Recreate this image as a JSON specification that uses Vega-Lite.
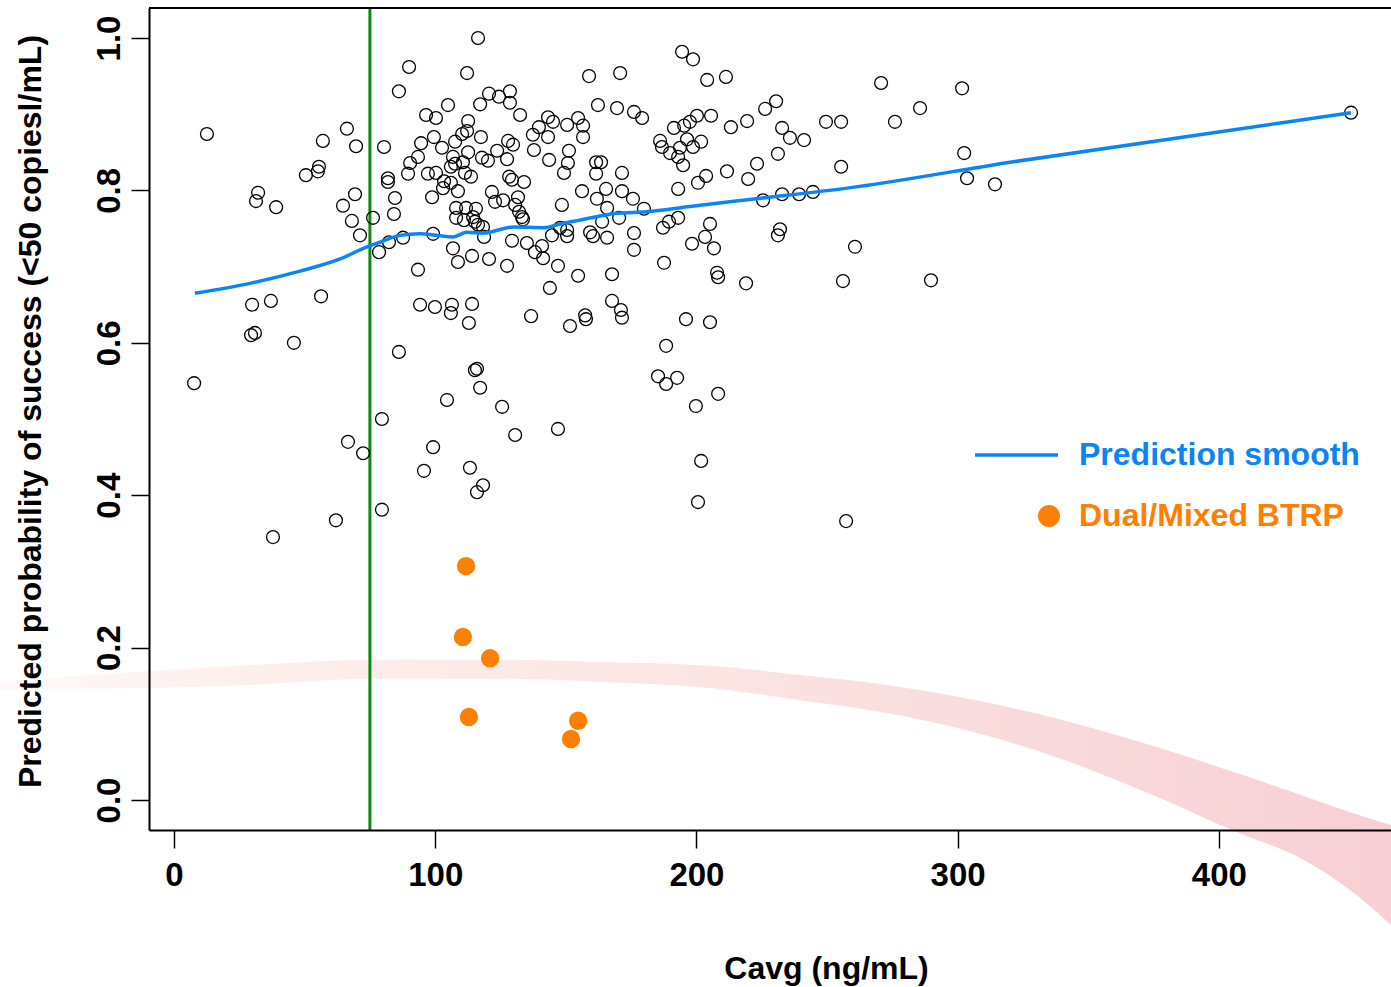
{
  "$schema": "https://vega.github.io/schema/vega-lite/v6.json",
  "width": 1242,
  "height": 822,
  "autosize": "none",
  "padding": {"left": 149, "top": 8, "right": 0, "bottom": 157},
  "config": {
    "view": {"stroke": null},
    "font": "Liberation Sans"
  },
  "datasets": {
    "band": [
      {"bx": -66.6, "btop": 0.155, "bbot": 0.144},
      {"bx": -36.0, "btop": 0.163, "bbot": 0.146},
      {"bx": -9.6, "btop": 0.169, "bbot": 0.147},
      {"bx": 29.1, "btop": 0.177, "bbot": 0.151},
      {"bx": 76.2, "btop": 0.184, "bbot": 0.159},
      {"bx": 124.8, "btop": 0.184, "bbot": 0.159},
      {"bx": 163.1, "btop": 0.181, "bbot": 0.155},
      {"bx": 205.2, "btop": 0.176, "bbot": 0.147},
      {"bx": 239.7, "btop": 0.164, "bbot": 0.131},
      {"bx": 273.0, "btop": 0.151, "bbot": 0.114},
      {"bx": 308.6, "btop": 0.130, "bbot": 0.087},
      {"bx": 341.1, "btop": 0.104, "bbot": 0.052},
      {"bx": 373.7, "btop": 0.072, "bbot": 0.008},
      {"bx": 408.9, "btop": 0.033, "bbot": -0.045},
      {"bx": 431.1, "btop": 0.007, "bbot": -0.076},
      {"bx": 450.2, "btop": -0.016, "bbot": -0.118},
      {"bx": 465.9, "btop": -0.033, "bbot": -0.164}
    ],
    "smooth": [
      {"cavg": 8.0, "prob": 0.665, "series": "Prediction smooth"},
      {"cavg": 29.1, "prob": 0.678, "series": "Prediction smooth"},
      {"cavg": 48.2, "prob": 0.694, "series": "Prediction smooth"},
      {"cavg": 63.6, "prob": 0.710, "series": "Prediction smooth"},
      {"cavg": 73.9, "prob": 0.726, "series": "Prediction smooth"},
      {"cavg": 78.9, "prob": 0.732, "series": "Prediction smooth"},
      {"cavg": 86.5, "prob": 0.741, "series": "Prediction smooth"},
      {"cavg": 94.2, "prob": 0.743, "series": "Prediction smooth"},
      {"cavg": 100.7, "prob": 0.741, "series": "Prediction smooth"},
      {"cavg": 106.9, "prob": 0.739, "series": "Prediction smooth"},
      {"cavg": 112.1, "prob": 0.745, "series": "Prediction smooth"},
      {"cavg": 118.4, "prob": 0.744, "series": "Prediction smooth"},
      {"cavg": 129.9, "prob": 0.752, "series": "Prediction smooth"},
      {"cavg": 141.4, "prob": 0.751, "series": "Prediction smooth"},
      {"cavg": 149.0, "prob": 0.757, "series": "Prediction smooth"},
      {"cavg": 155.4, "prob": 0.761, "series": "Prediction smooth"},
      {"cavg": 169.5, "prob": 0.770, "series": "Prediction smooth"},
      {"cavg": 181.0, "prob": 0.772, "series": "Prediction smooth"},
      {"cavg": 197.5, "prob": 0.779, "series": "Prediction smooth"},
      {"cavg": 225.5, "prob": 0.790, "series": "Prediction smooth"},
      {"cavg": 257.7, "prob": 0.803, "series": "Prediction smooth"},
      {"cavg": 320.1, "prob": 0.837, "series": "Prediction smooth"},
      {"cavg": 450.6, "prob": 0.902, "series": "Prediction smooth"}
    ],
    "btrp": [
      {"cavg": 111.8, "prob": 0.307, "series": "Dual/Mixed BTRP"},
      {"cavg": 110.6, "prob": 0.214, "series": "Dual/Mixed BTRP"},
      {"cavg": 121.0, "prob": 0.186, "series": "Dual/Mixed BTRP"},
      {"cavg": 112.9, "prob": 0.109, "series": "Dual/Mixed BTRP"},
      {"cavg": 154.7, "prob": 0.104, "series": "Dual/Mixed BTRP"},
      {"cavg": 152.0, "prob": 0.080, "series": "Dual/Mixed BTRP"}
    ],
    "pts": [
      {"cavg": 7.7, "prob": 0.547}, {"cavg": 12.6, "prob": 0.874}, {"cavg": 29.5, "prob": 0.610}, {"cavg": 29.9, "prob": 0.650},
      {"cavg": 31.0, "prob": 0.613}, {"cavg": 31.4, "prob": 0.786}, {"cavg": 32.2, "prob": 0.797}, {"cavg": 37.1, "prob": 0.655},
      {"cavg": 37.9, "prob": 0.345}, {"cavg": 39.1, "prob": 0.778}, {"cavg": 45.9, "prob": 0.600}, {"cavg": 50.5, "prob": 0.820},
      {"cavg": 55.1, "prob": 0.825}, {"cavg": 55.5, "prob": 0.831}, {"cavg": 56.3, "prob": 0.661}, {"cavg": 57.0, "prob": 0.865},
      {"cavg": 62.0, "prob": 0.367}, {"cavg": 64.7, "prob": 0.780}, {"cavg": 66.2, "prob": 0.881}, {"cavg": 66.6, "prob": 0.470},
      {"cavg": 68.1, "prob": 0.760}, {"cavg": 69.3, "prob": 0.795}, {"cavg": 69.7, "prob": 0.858}, {"cavg": 71.2, "prob": 0.741},
      {"cavg": 72.4, "prob": 0.455}, {"cavg": 76.2, "prob": 0.764}, {"cavg": 78.5, "prob": 0.719}, {"cavg": 79.6, "prob": 0.500},
      {"cavg": 79.6, "prob": 0.381}, {"cavg": 80.4, "prob": 0.857}, {"cavg": 81.9, "prob": 0.816}, {"cavg": 81.9, "prob": 0.811},
      {"cavg": 82.3, "prob": 0.732}, {"cavg": 84.2, "prob": 0.769}, {"cavg": 84.6, "prob": 0.790}, {"cavg": 86.1, "prob": 0.930},
      {"cavg": 86.1, "prob": 0.588}, {"cavg": 87.7, "prob": 0.738}, {"cavg": 89.6, "prob": 0.822}, {"cavg": 90.0, "prob": 0.962},
      {"cavg": 90.4, "prob": 0.836}, {"cavg": 93.4, "prob": 0.844}, {"cavg": 93.4, "prob": 0.696}, {"cavg": 94.2, "prob": 0.650},
      {"cavg": 94.6, "prob": 0.862}, {"cavg": 95.7, "prob": 0.432}, {"cavg": 96.5, "prob": 0.899}, {"cavg": 97.2, "prob": 0.822},
      {"cavg": 98.8, "prob": 0.791}, {"cavg": 99.2, "prob": 0.743}, {"cavg": 99.2, "prob": 0.463}, {"cavg": 99.5, "prob": 0.870},
      {"cavg": 99.9, "prob": 0.647}, {"cavg": 100.3, "prob": 0.895}, {"cavg": 100.3, "prob": 0.823}, {"cavg": 104.5, "prob": 0.525},
      {"cavg": 116.4, "prob": 1.000}, {"cavg": 112.2, "prob": 0.954}, {"cavg": 158.9, "prob": 0.950}, {"cavg": 170.8, "prob": 0.954},
      {"cavg": 194.5, "prob": 0.982}, {"cavg": 198.7, "prob": 0.972}, {"cavg": 120.6, "prob": 0.927}, {"cavg": 124.4, "prob": 0.923},
      {"cavg": 128.6, "prob": 0.930}, {"cavg": 128.6, "prob": 0.915}, {"cavg": 117.2, "prob": 0.913}, {"cavg": 104.9, "prob": 0.912},
      {"cavg": 132.5, "prob": 0.899}, {"cavg": 162.3, "prob": 0.912}, {"cavg": 169.6, "prob": 0.908}, {"cavg": 176.1, "prob": 0.903},
      {"cavg": 179.2, "prob": 0.895}, {"cavg": 112.6, "prob": 0.891}, {"cavg": 112.2, "prob": 0.878}, {"cavg": 110.3, "prob": 0.874},
      {"cavg": 107.6, "prob": 0.864}, {"cavg": 117.5, "prob": 0.870}, {"cavg": 102.6, "prob": 0.856}, {"cavg": 112.6, "prob": 0.850},
      {"cavg": 123.7, "prob": 0.852}, {"cavg": 127.9, "prob": 0.865}, {"cavg": 129.8, "prob": 0.860}, {"cavg": 127.5, "prob": 0.841},
      {"cavg": 117.9, "prob": 0.843}, {"cavg": 120.2, "prob": 0.839}, {"cavg": 106.8, "prob": 0.844}, {"cavg": 107.6, "prob": 0.835},
      {"cavg": 106.0, "prob": 0.831}, {"cavg": 110.6, "prob": 0.837}, {"cavg": 111.4, "prob": 0.823}, {"cavg": 113.7, "prob": 0.818},
      {"cavg": 103.4, "prob": 0.812}, {"cavg": 106.0, "prob": 0.810}, {"cavg": 103.0, "prob": 0.803}, {"cavg": 108.7, "prob": 0.799},
      {"cavg": 137.4, "prob": 0.873}, {"cavg": 139.7, "prob": 0.883}, {"cavg": 143.2, "prob": 0.896}, {"cavg": 145.1, "prob": 0.890},
      {"cavg": 143.2, "prob": 0.870}, {"cavg": 150.5, "prob": 0.886}, {"cavg": 154.7, "prob": 0.895}, {"cavg": 156.6, "prob": 0.885},
      {"cavg": 156.6, "prob": 0.870}, {"cavg": 137.8, "prob": 0.853}, {"cavg": 143.6, "prob": 0.840}, {"cavg": 151.2, "prob": 0.852},
      {"cavg": 150.8, "prob": 0.836}, {"cavg": 149.3, "prob": 0.823}, {"cavg": 161.6, "prob": 0.837}, {"cavg": 163.5, "prob": 0.837},
      {"cavg": 161.6, "prob": 0.822}, {"cavg": 171.5, "prob": 0.823}, {"cavg": 128.3, "prob": 0.818}, {"cavg": 129.4, "prob": 0.814},
      {"cavg": 134.0, "prob": 0.811}, {"cavg": 121.7, "prob": 0.798}, {"cavg": 156.2, "prob": 0.799}, {"cavg": 165.4, "prob": 0.802},
      {"cavg": 171.5, "prob": 0.799}, {"cavg": 175.7, "prob": 0.789}, {"cavg": 179.9, "prob": 0.776}, {"cavg": 193.0, "prob": 0.802},
      {"cavg": 191.4, "prob": 0.882}, {"cavg": 195.3, "prob": 0.885}, {"cavg": 197.5, "prob": 0.890}, {"cavg": 186.1, "prob": 0.865},
      {"cavg": 186.8, "prob": 0.857}, {"cavg": 189.9, "prob": 0.849}, {"cavg": 193.7, "prob": 0.856}, {"cavg": 193.0, "prob": 0.844},
      {"cavg": 194.9, "prob": 0.833}, {"cavg": 196.4, "prob": 0.867}, {"cavg": 198.7, "prob": 0.857}, {"cavg": 201.8, "prob": 0.864},
      {"cavg": 200.2, "prob": 0.898}, {"cavg": 205.6, "prob": 0.898}, {"cavg": 122.9, "prob": 0.785}, {"cavg": 126.0, "prob": 0.787},
      {"cavg": 131.7, "prob": 0.791}, {"cavg": 130.6, "prob": 0.781}, {"cavg": 132.1, "prob": 0.772}, {"cavg": 133.2, "prob": 0.765},
      {"cavg": 133.6, "prob": 0.762}, {"cavg": 148.5, "prob": 0.781}, {"cavg": 161.9, "prob": 0.789}, {"cavg": 165.8, "prob": 0.777},
      {"cavg": 108.0, "prob": 0.777}, {"cavg": 111.8, "prob": 0.777}, {"cavg": 115.6, "prob": 0.776}, {"cavg": 108.0, "prob": 0.764},
      {"cavg": 111.0, "prob": 0.761}, {"cavg": 114.5, "prob": 0.765}, {"cavg": 115.2, "prob": 0.759}, {"cavg": 116.4, "prob": 0.755},
      {"cavg": 118.3, "prob": 0.752}, {"cavg": 118.7, "prob": 0.739}, {"cavg": 106.8, "prob": 0.724}, {"cavg": 114.1, "prob": 0.714},
      {"cavg": 108.7, "prob": 0.706}, {"cavg": 120.6, "prob": 0.710}, {"cavg": 127.5, "prob": 0.701}, {"cavg": 129.4, "prob": 0.734},
      {"cavg": 135.1, "prob": 0.731}, {"cavg": 138.2, "prob": 0.719}, {"cavg": 140.9, "prob": 0.727}, {"cavg": 141.3, "prob": 0.711},
      {"cavg": 144.7, "prob": 0.741}, {"cavg": 147.8, "prob": 0.751}, {"cavg": 150.5, "prob": 0.748}, {"cavg": 150.5, "prob": 0.740},
      {"cavg": 147.0, "prob": 0.701}, {"cavg": 154.7, "prob": 0.688}, {"cavg": 143.9, "prob": 0.672}, {"cavg": 159.3, "prob": 0.745},
      {"cavg": 160.4, "prob": 0.740}, {"cavg": 163.9, "prob": 0.759}, {"cavg": 165.8, "prob": 0.738}, {"cavg": 170.4, "prob": 0.764},
      {"cavg": 176.1, "prob": 0.744}, {"cavg": 176.1, "prob": 0.722}, {"cavg": 167.7, "prob": 0.690}, {"cavg": 167.7, "prob": 0.655},
      {"cavg": 187.6, "prob": 0.705}, {"cavg": 187.2, "prob": 0.751}, {"cavg": 189.5, "prob": 0.759}, {"cavg": 193.0, "prob": 0.764},
      {"cavg": 198.3, "prob": 0.730}, {"cavg": 106.4, "prob": 0.650}, {"cavg": 106.0, "prob": 0.639}, {"cavg": 114.1, "prob": 0.651},
      {"cavg": 112.9, "prob": 0.626}, {"cavg": 136.7, "prob": 0.635}, {"cavg": 151.6, "prob": 0.622}, {"cavg": 157.4, "prob": 0.636},
      {"cavg": 157.7, "prob": 0.631}, {"cavg": 171.1, "prob": 0.643}, {"cavg": 171.5, "prob": 0.633}, {"cavg": 196.0, "prob": 0.631},
      {"cavg": 188.4, "prob": 0.596}, {"cavg": 185.3, "prob": 0.556}, {"cavg": 192.6, "prob": 0.554}, {"cavg": 188.4, "prob": 0.546},
      {"cavg": 115.2, "prob": 0.564}, {"cavg": 116.0, "prob": 0.566}, {"cavg": 117.2, "prob": 0.541}, {"cavg": 125.6, "prob": 0.516},
      {"cavg": 130.6, "prob": 0.479}, {"cavg": 147.0, "prob": 0.487}, {"cavg": 113.3, "prob": 0.436}, {"cavg": 118.3, "prob": 0.413},
      {"cavg": 116.0, "prob": 0.404}, {"cavg": 199.8, "prob": 0.517}, {"cavg": 204.1, "prob": 0.945}, {"cavg": 211.3, "prob": 0.949},
      {"cavg": 270.7, "prob": 0.941}, {"cavg": 301.7, "prob": 0.934}, {"cavg": 230.5, "prob": 0.917}, {"cavg": 226.3, "prob": 0.907},
      {"cavg": 285.6, "prob": 0.908}, {"cavg": 213.2, "prob": 0.883}, {"cavg": 219.4, "prob": 0.891}, {"cavg": 249.6, "prob": 0.890},
      {"cavg": 255.4, "prob": 0.890}, {"cavg": 276.0, "prob": 0.890}, {"cavg": 232.8, "prob": 0.882}, {"cavg": 235.8, "prob": 0.869},
      {"cavg": 241.2, "prob": 0.866}, {"cavg": 231.2, "prob": 0.848}, {"cavg": 223.2, "prob": 0.835}, {"cavg": 211.7, "prob": 0.825},
      {"cavg": 203.7, "prob": 0.819}, {"cavg": 200.6, "prob": 0.810}, {"cavg": 219.8, "prob": 0.815}, {"cavg": 255.4, "prob": 0.831},
      {"cavg": 302.5, "prob": 0.849}, {"cavg": 303.6, "prob": 0.816}, {"cavg": 314.3, "prob": 0.808}, {"cavg": 225.5, "prob": 0.787},
      {"cavg": 232.8, "prob": 0.795}, {"cavg": 239.3, "prob": 0.795}, {"cavg": 244.6, "prob": 0.798}, {"cavg": 205.2, "prob": 0.756},
      {"cavg": 203.3, "prob": 0.739}, {"cavg": 206.7, "prob": 0.724}, {"cavg": 232.0, "prob": 0.749}, {"cavg": 231.2, "prob": 0.741},
      {"cavg": 260.7, "prob": 0.726}, {"cavg": 207.9, "prob": 0.692}, {"cavg": 208.3, "prob": 0.686}, {"cavg": 219.0, "prob": 0.678},
      {"cavg": 256.1, "prob": 0.681}, {"cavg": 289.8, "prob": 0.682}, {"cavg": 205.2, "prob": 0.627}, {"cavg": 208.3, "prob": 0.533},
      {"cavg": 201.8, "prob": 0.445}, {"cavg": 200.6, "prob": 0.391}, {"cavg": 257.3, "prob": 0.366}, {"cavg": 450.6, "prob": 0.902}
    ]
  },
  "layer": [
    {
      "data": {"name": "band"},
      "mark": {
        "type": "area",
        "interpolate": "monotone",
        "clip": false,
        "fill": {
          "gradient": "linear", "x1": 0, "x2": 1, "y1": 0, "y2": 0,
          "stops": [
            {"offset": 0, "color": "#fefaf8"},
            {"offset": 0.15, "color": "#fdf0ed"},
            {"offset": 0.5, "color": "#fbe5e3"},
            {"offset": 1, "color": "#f7cfd4"}
          ]
        },
        "fillOpacity": 1
      },
      "encoding": {
        "x": {
          "field": "bx", "type": "quantitative",
          "scale": {"domain": [-9.57, 465.9], "nice": false, "zero": false},
          "axis": {
            "values": [0, 100, 200, 300, 400],
            "title": "Cavg (ng/mL)",
            "grid": false,
            "domain": true, "domainColor": "black", "domainWidth": 2,
            "ticks": true, "tickSize": 18, "tickWidth": 1.5, "tickColor": "black",
            "labelFont": "Liberation Sans", "labelFontSize": 33, "labelFontWeight": "bold", "labelColor": "black",
            "labelPadding": 11, "labelFlush": false, "labelOverlap": false,
            "titleFont": "Liberation Sans", "titleFontSize": 32, "titleFontWeight": "bold", "titleColor": "black",
            "titleX": 677, "titleY": 148, "titleBaseline": "alphabetic", "titleAlign": "center",
            "zindex": 1
          }
        },
        "y": {
          "field": "btop", "type": "quantitative",
          "scale": {"domain": [-0.0394, 1.0394], "nice": false, "zero": false},
          "axis": {
            "values": [0, 0.2, 0.4, 0.6, 0.8, 1.0],
            "format": ".1f",
            "title": "Predicted probability of success (<50 copiesl/mL)",
            "grid": false,
            "domain": true, "domainColor": "black", "domainWidth": 2,
            "ticks": true, "tickSize": 18, "tickWidth": 1.5, "tickColor": "black",
            "labelFont": "Liberation Sans", "labelFontSize": 33, "labelFontWeight": "bold", "labelColor": "black",
            "labelAngle": -90, "labelAlign": "center", "labelBaseline": "alphabetic",
            "labelPadding": 12, "labelFlush": false, "labelOverlap": false,
            "titleFont": "Liberation Sans", "titleFontSize": 32, "titleFontWeight": "bold", "titleColor": "black",
            "titleAngle": -90, "titleX": -109, "titleY": 403, "titleBaseline": "alphabetic", "titleAlign": "center",
            "zindex": 1
          }
        },
        "y2": {"field": "bbot"}
      }
    },
    {
      "data": {"values": [{}]},
      "mark": {"type": "rule", "color": "#0b8a0b", "strokeWidth": 3},
      "encoding": {"x": {"datum": 75}}
    },
    {
      "data": {"values": [{}]},
      "mark": {"type": "rule", "color": "black", "strokeWidth": 2},
      "encoding": {"y": {"datum": 1.0394}}
    },
    {
      "data": {"name": "pts"},
      "mark": {"type": "point", "shape": "circle", "filled": false, "stroke": "black", "strokeWidth": 1.3, "size": 165, "opacity": 1},
      "encoding": {
        "x": {"field": "cavg", "type": "quantitative"},
        "y": {"field": "prob", "type": "quantitative"}
      }
    },
    {
      "data": {"name": "smooth"},
      "mark": {"type": "line", "strokeWidth": 3.5, "interpolate": "monotone"},
      "encoding": {
        "x": {"field": "cavg", "type": "quantitative"},
        "y": {"field": "prob", "type": "quantitative"},
        "color": {
          "field": "series", "type": "nominal",
          "scale": {"domain": ["Prediction smooth", "Dual/Mixed BTRP"], "range": ["#0b84f5", "#ff8000"]},
          "legend": {
            "orient": "none", "legendX": 826, "legendY": 431,
            "title": null, "padding": 0,
            "labelFont": "Liberation Sans", "labelFontSize": 32, "labelFontWeight": "bold",
            "labelOffset": 72, "labelLimit": 0, "rowPadding": 29, "clipHeight": 32,
            "symbolType": "stroke", "symbolSize": 6889, "symbolStrokeWidth": 3.5,
            "encode": {
              "symbols": {"update": {
                "shape": {"signal": "datum.value === 'Prediction smooth' ? 'stroke' : 'circle'"},
                "size": {"signal": "datum.value === 'Prediction smooth' ? 6889 : 340"},
                "fill": {"signal": "datum.value === 'Prediction smooth' ? 'transparent' : '#ff8000'"},
                "stroke": {"signal": "datum.value === 'Prediction smooth' ? '#0b84f5' : 'transparent'"},
                "strokeWidth": {"value": 3.5},
                "opacity": {"value": 1},
                "x": {"signal": "datum.value === 'Prediction smooth' ? 41.5 : 74"}
              }},
              "labels": {"update": {
                "fill": {"signal": "datum.value === 'Prediction smooth' ? '#0b84f5' : '#ff8000'"}
              }}
            }
          }
        }
      }
    },
    {
      "data": {"name": "btrp"},
      "mark": {"type": "circle", "size": 335, "opacity": 1},
      "encoding": {
        "x": {"field": "cavg", "type": "quantitative"},
        "y": {"field": "prob", "type": "quantitative"},
        "color": {"field": "series", "type": "nominal"}
      }
    }
  ]
}
